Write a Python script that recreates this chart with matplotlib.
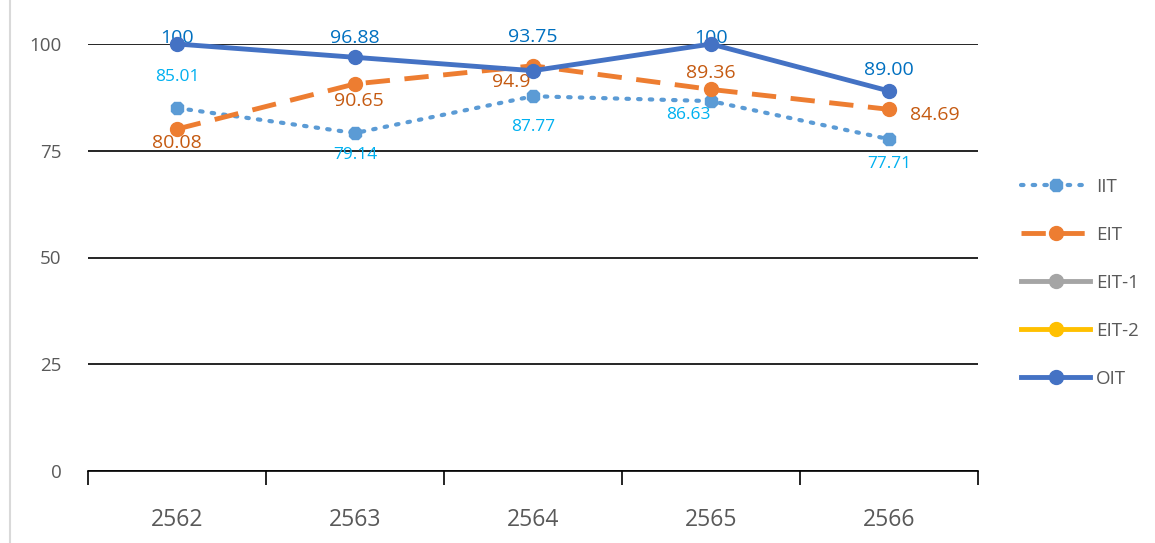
import matplotlib
matplotlib.use("Agg")
import matplotlib.pyplot as plt
import numpy as np

years = ["2562", "2563", "2564", "2565", "2566"]
iit = [85.01, 79.14, 87.77, 86.63, 77.71]
eit = [80.08, 90.65, 94.9, 89.36, 84.69]
eit1 = [np.nan] * 5
eit2 = [np.nan] * 5
oit = [100, 96.88, 93.75, 100, 89.00]
iit_labels = ["85.01", "79.14", "87.77", "86.63", "77.71"]
eit_labels = ["80.08", "90.65", "94.9", "89.36", "84.69"]
oit_labels = ["100", "96.88", "93.75", "100", "89.00"]
yticks = [0, 25, 50, 75, 100]

plt.rcParams['font.family'] = ['Open Sans', 'DejaVu Sans']

fig = plt.figure(figsize=(11.55, 5.43), dpi=100)
ax = fig.add_axes([88/1155, 1-471/543, (978-88)/1155, (471-44)/543])
x = np.arange(len(years))

c_iit, c_eit, c_e1, c_e2, c_oit = "#5B9BD5", "#ED7D31", "#A5A5A5", "#FFC000", "#4472C4"

l1, = ax.plot(x, iit, color=c_iit, lw=3, ls=(0, (0.6, 2.2)), dash_capstyle='round',
              marker='8', ms=10, clip_on=False, zorder=3, label="IIT")
l2, = ax.plot(x, eit, color=c_eit, lw=3.5, ls=(0, (5, 3)), marker='o', ms=10,
              clip_on=False, zorder=4, label="EIT")
l3, = ax.plot(x, eit1, color=c_e1, lw=3.5, marker='o', ms=10, label="EIT-1")
l4, = ax.plot(x, eit2, color=c_e2, lw=3.5, marker='o', ms=10, label="EIT-2")
l5, = ax.plot(x, oit, color=c_oit, lw=3.5, marker='o', ms=10, clip_on=False,
              zorder=5, label="OIT")

# data labels
iit_off = [(0, 22), (0, -16), (0, -22), (-16, -10), (0, -18)]
for xi, v, t, (dx, dy) in zip(x, iit, iit_labels, iit_off):
    ax.annotate(t, (xi, v), xytext=(dx, dy), textcoords='offset points',
                ha='center', va='center', color="#00B0F0", fontsize=12.5)
eit_off = [(0, -10), (3, -12), (-16, -12), (0, 12), (33, -4)]
for xi, v, t, (dx, dy) in zip(x, eit, eit_labels, eit_off):
    ax.annotate(t, (xi, v), xytext=(dx, dy), textcoords='offset points',
                ha='center', va='center', color="#C55A11", fontsize=14)
oit_off = [(0, 4), (0, 14), (0, 24), (0, 4), (0, 15)]
for xi, v, t, (dx, dy) in zip(x, oit, oit_labels, oit_off):
    ax.annotate(t, (xi, v), xytext=(dx, dy), textcoords='offset points',
                ha='center', va='center', color="#0070C0", fontsize=14)

ax.set_xlim(-0.5, 4.5)
ax.set_ylim(0, 100)
ax.set_yticks(yticks)
ax.set_yticklabels([str(v) for v in yticks], color="#595959", fontsize=13.5)
ax.yaxis.grid(True, color="black", lw=1.2)
ax.set_axisbelow(True)
ax.tick_params(axis='y', length=0, pad=19)

ax.set_xticks(x)
ax.set_xticklabels(years, color="#595959", fontsize=16.5)
ax.tick_params(axis='x', which='major', length=0, pad=27)
ax.set_xticks(np.arange(-0.5, 5, 1), minor=True)
ax.tick_params(axis='x', which='minor', length=10, width=1.2, color='black')

for s in ['top', 'right', 'left']:
    ax.spines[s].set_visible(False)
ax.spines['bottom'].set_color('black')
ax.spines['bottom'].set_linewidth(1.2)

leg = fig.legend(handles=[l1, l2, l3, l4, l5], loc='center left',
                 bbox_to_anchor=(1004/1155, 1-283/543), frameon=False,
                 fontsize=13.5, handlelength=3.7, labelspacing=1.6,
                 labelcolor="#595959", handletextpad=0.3)

fig.add_artist(plt.Line2D([10/1155, 10/1155], [0, 1], color="#D9D9D9", lw=1.5))

fig.savefig("out.png", dpi=100)
